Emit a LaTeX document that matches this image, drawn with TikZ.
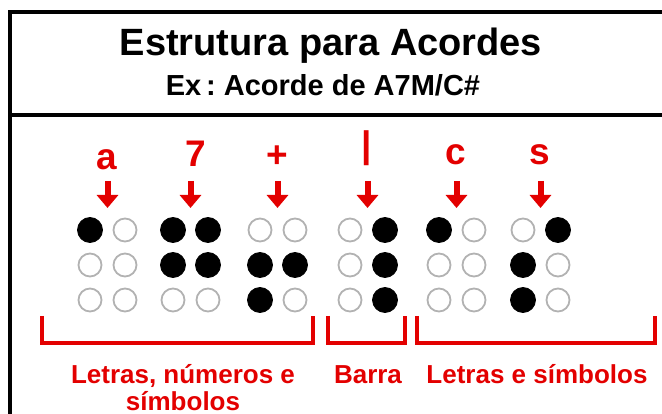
\documentclass[tikz,border=0pt]{standalone}
\usepackage{fontspec}
\setmainfont{Liberation Sans}
\usetikzlibrary{arrows.meta, positioning, calc}
\definecolor{brred}{HTML}{E30000}

\begin{document}
\frenchspacing
\begin{tikzpicture}[x=1pt, y=-1pt,
  every node/.style={inner sep=0pt},
  frame/.style={line width=3.5pt, black},
  title/.style={font=\fontsize{38}{40}\selectfont\bfseries, anchor=base},
  subtitle/.style={font=\fontsize{29}{30}\selectfont\bfseries, anchor=base},
  sym/.style={text=brred, font=\fontsize{37}{40}\selectfont\bfseries},
  arr/.style={-{Triangle[width=21pt, length=13pt]}, line width=6pt, brred},
  dotopen/.style={circle, draw=gray!60, line width=1.8pt, minimum size=23pt},
  dotfull/.style={circle, fill=black, draw=black, line width=0.8pt, minimum size=25pt},
  brace/.style={brred, line width=3.5pt},
  grouptext/.style={text=brred, font=\fontsize{26}{28}\selectfont\bfseries, anchor=base}
]
\useasboundingbox (0,0) rectangle (662,414);

% frame
\coordinate (tl) at (10,12);
\coordinate (tr) at (662,12);
\coordinate (bl) at (10,414);
\coordinate (ml) at (10,115);
\coordinate (mr) at (662,115);
\draw[frame] (tr) -- (tl) -- (bl);
\draw[frame] (ml) -- (mr);

\node[title] (head) at (331,56) {Estrutura para Acordes};
\node[subtitle] (ex) at (323,96) {Ex\,: Acorde de A7M/C\#};

% braille cells: number / left x / symbol x, y / dots
\foreach \i/\x/\gx/\glyph/\gy/\pat in {1/90/107/a/160/{1,0,0,0,0,0},
    2/173/196/7/154/{1,1,0,1,1,0}, 3/260/277/+/157/{0,1,1,0,1,0},
    4/350/367/|/148/{0,0,0,1,1,1}, 5/439/456/c/155/{1,0,0,0,0,0},
    6/523/540/s/155/{0,1,1,1,0,0}}{
  \node[sym] (sym\i) at (\gx,\gy) {\glyph};
  \coordinate (from\i) at (\x+17.5,181);
  \coordinate (to\i) at (\x+17.5,208);
  \draw[arr] (from\i) -- (to\i);
  \foreach \v [count=\k] in \pat {
    \pgfmathsetmacro\dx{\x+35*int((\k-1)/3)}
    \pgfmathsetmacro\dy{230+35*mod(\k-1,3)}
    \ifnum\v=1
      \node[dotfull] (dot\i-\k) at (\dx,\dy) {};
    \else
      \node[dotopen] (dot\i-\k) at (\dx,\dy) {};
    \fi
  }
}

% groups
\foreach \g/\l/\r in {1/42/313, 2/328/405, 3/417/655}{
  \coordinate (gl\g) at (\l,316);
  \coordinate (gr\g) at (\r,316);
  \draw[brace] (gl\g) |- ($(gr\g)+(0,27)$) -- (gr\g);
}
\node[grouptext] (grp1) at (183,383) {Letras, números e};
\node[grouptext] (grp1b) at (183,410) {símbolos};
\node[grouptext] (grp2) at (368,383) {Barra};
\node[grouptext] (grp3) at (537,383) {Letras e símbolos};
\end{tikzpicture}
\end{document}
